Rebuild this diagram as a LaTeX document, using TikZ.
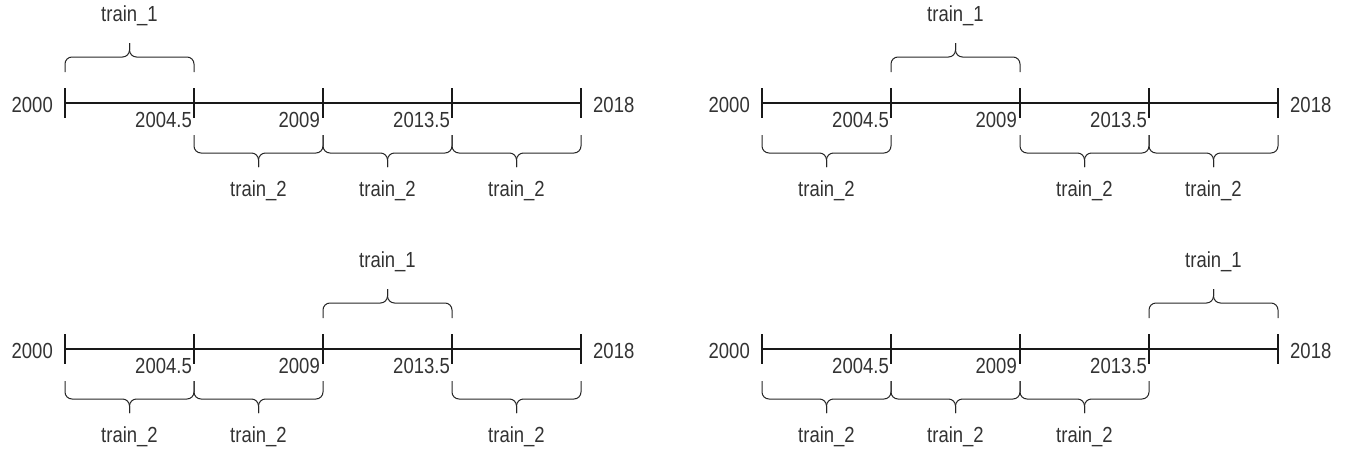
\documentclass[tikz,border=0pt]{standalone}
\usepackage{fontspec}
\setmainfont{Liberation Sans}
\tikzset{
  axisln/.style={line width=1.1pt, black!90},
  brc/.style={line width=1pt, black!85, rounded corners=7pt},
  lbl/.style={font=\fontsize{18.5}{20}\selectfont, inner sep=0pt, text=black!80},
}
\newcommand\txt[1]{\scalebox{1}[1.18]{#1}}
% #1 x of 2000, #2 axis y, #3 segment with train_1, #4 name prefix
\newcommand\pnl[4]{%
\begin{scope}[shift={(#1,#2)}]
  \draw[axisln] (0,0) -- (516,0);
  \foreach \i in {0,...,4}{\draw[axisln] (\i*129,-15) -- (\i*129,15);}
  \node[lbl, anchor=east] (#4y0) at (-12,2) {\txt{2000}};
  \node[lbl, anchor=east] (#4y1) at (127,17) {\txt{2004.5}};
  \node[lbl, anchor=east] (#4y2) at (255,17) {\txt{2009}};
  \node[lbl, anchor=east] (#4y3) at (385,17) {\txt{2013.5}};
  \node[lbl, anchor=west] (#4y4) at (528,2) {\txt{2018}};
  \foreach \s in {0,...,3}{
    \pgfmathsetmacro\xa{\s*129}
    \pgfmathsetmacro\xb{\s*129+129}
    \pgfmathsetmacro\xm{\s*129+64.5}
    \ifnum\s=#3
      \draw[brc] (\xa,-31) -- (\xa,-46) -- (\xm,-46) -- (\xm,-60);
      \draw[brc] (\xb,-31) -- (\xb,-46) -- (\xm,-46) -- (\xm,-60);
      \node[lbl] (#4t\s) at (\xm,-87) {\txt{train\_1}};
    \else
      \draw[brc] (\xa,32) -- (\xa,50) -- (\xm,50) -- (\xm,64);
      \draw[brc] (\xb,32) -- (\xb,50) -- (\xm,50) -- (\xm,64);
      \node[lbl] (#4t\s) at (\xm,88) {\txt{train\_2}};
    \fi
  }
\end{scope}}
\begin{document}
\begin{tikzpicture}[x=1pt,y=-1pt]
  \useasboundingbox (0,0) rectangle (1345,450);
  \pnl{65}{103}{0}{a}
  \pnl{762}{103}{1}{b}
  \pnl{65}{349}{2}{c}
  \pnl{762}{349}{3}{d}
\end{tikzpicture}
\end{document}
